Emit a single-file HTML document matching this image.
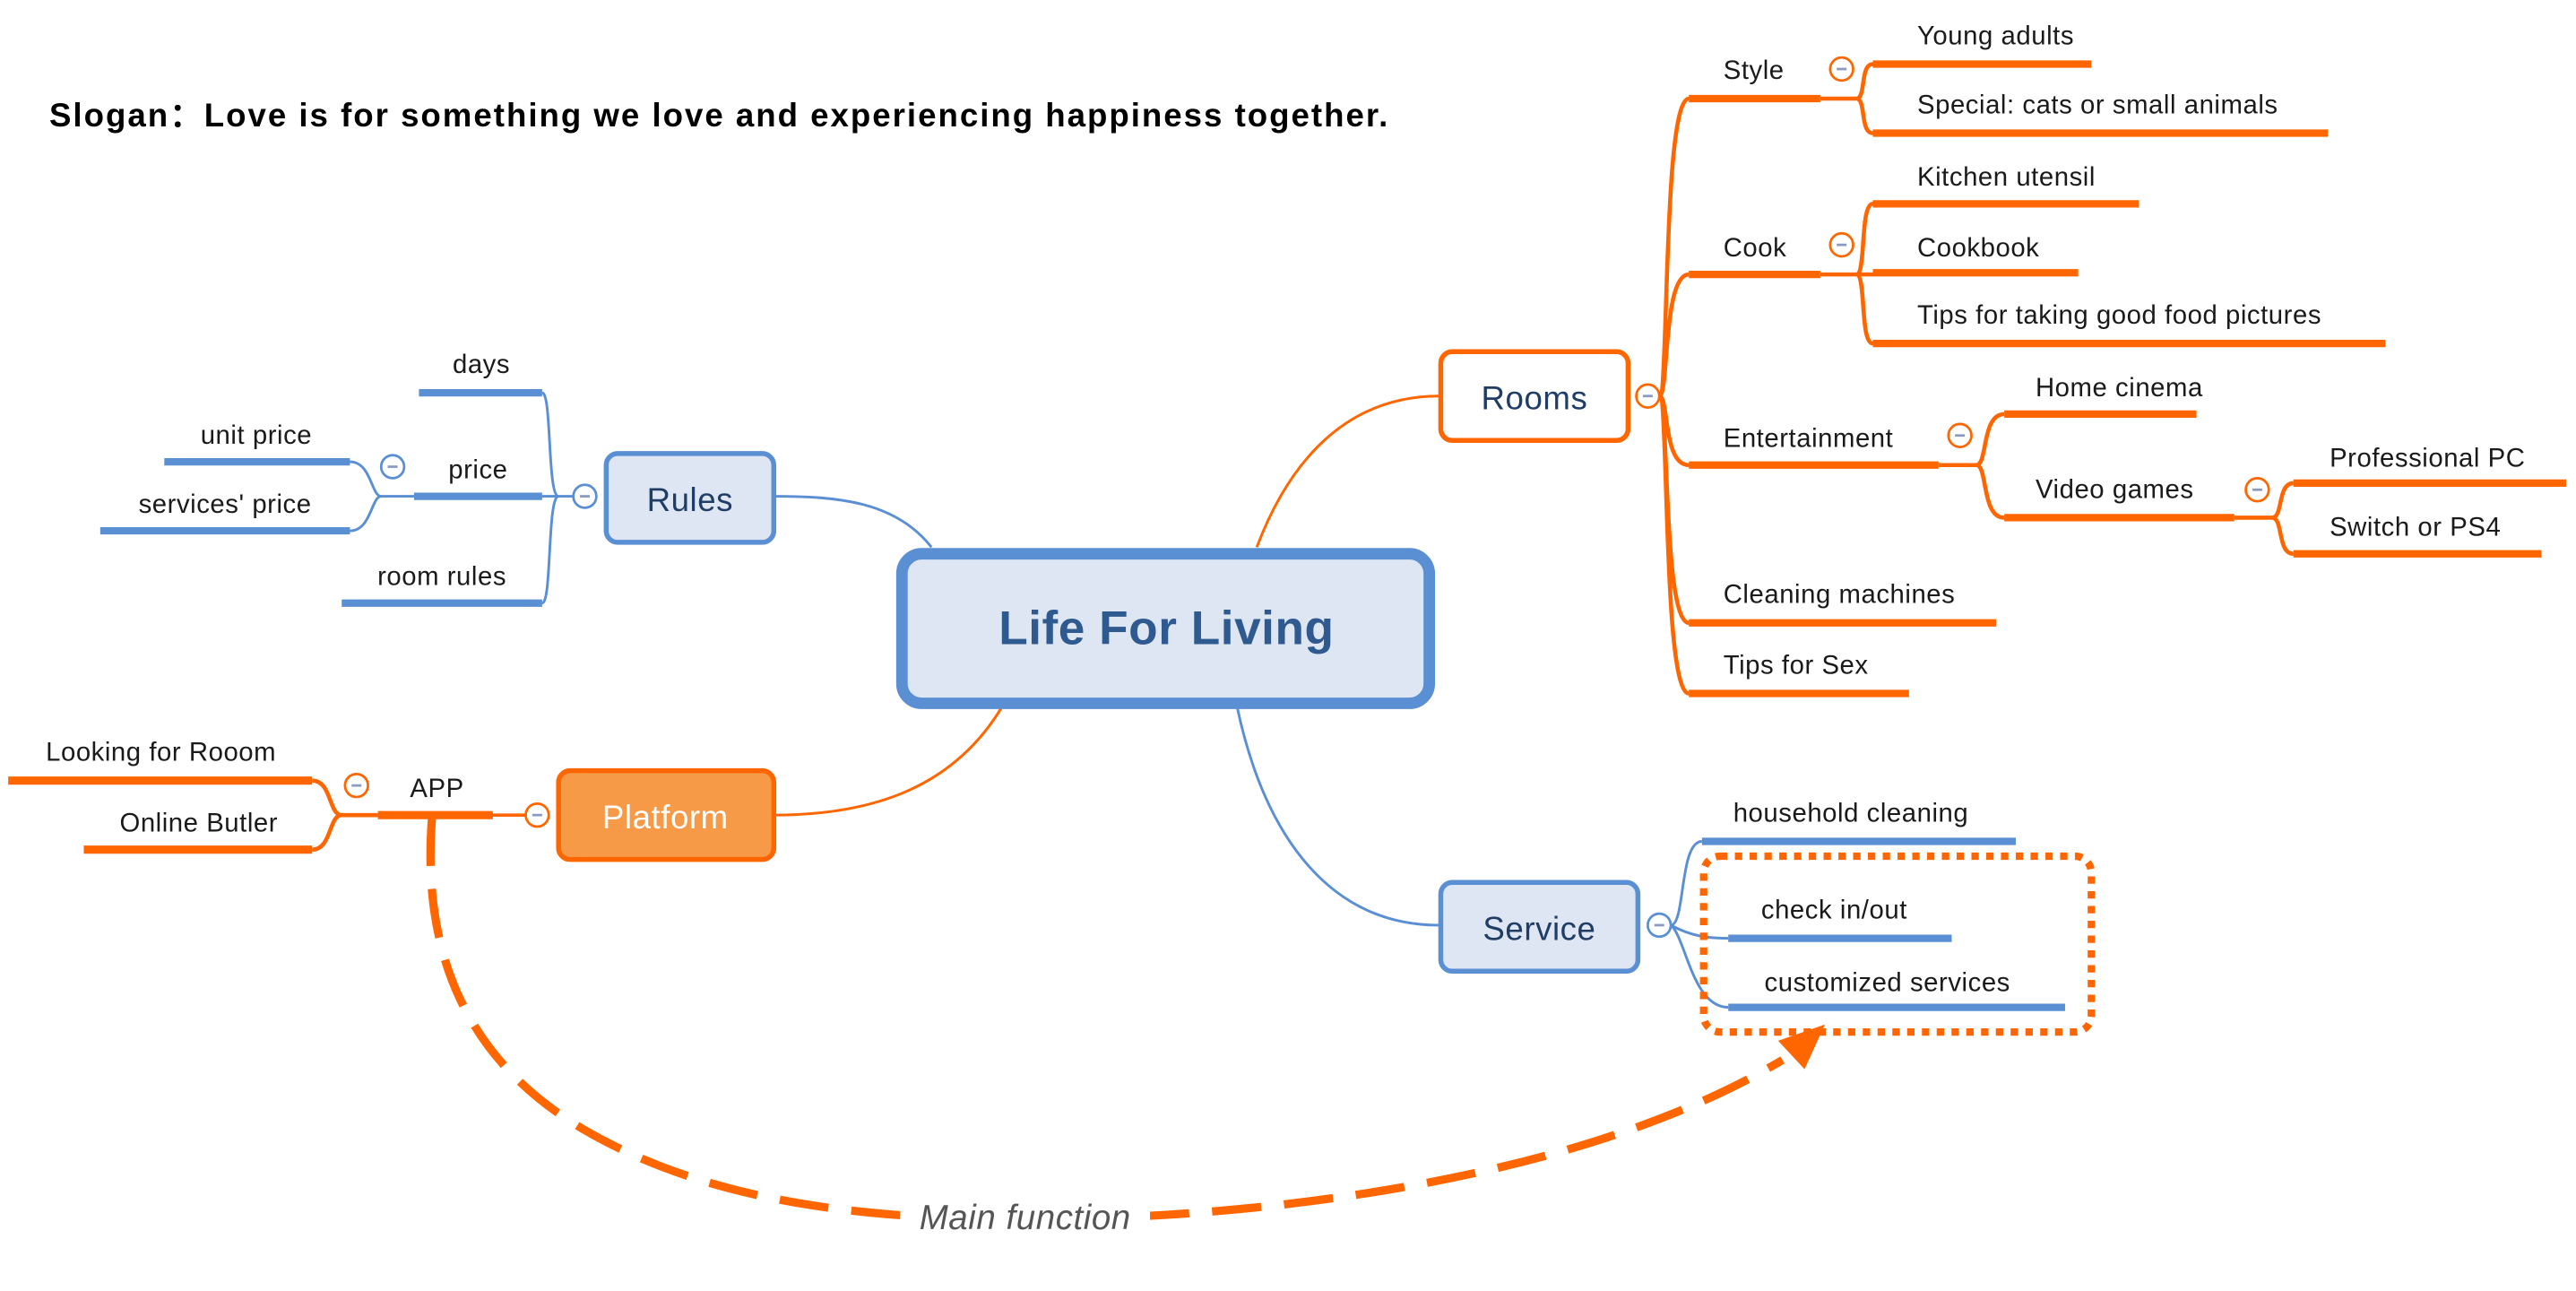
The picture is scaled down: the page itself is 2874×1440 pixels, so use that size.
<!DOCTYPE html>
<html><head><meta charset="utf-8"><style>
html,body{margin:0;padding:0;background:#fff;width:2874px;height:1440px;overflow:hidden}
svg{display:block}
text{font-family:"Liberation Sans",sans-serif;fill:#1a1a1a;font-size:16px;letter-spacing:0.3px}
</style></head><body>
<svg width="2874" height="1440" viewBox="0 0 1568 785.6" xmlns="http://www.w3.org/2000/svg">
<text x="30" y="77" textLength="815" lengthAdjust="spacing" style="font-size:20px;font-weight:bold;fill:#000">Slogan：Love is for something we love and experiencing happiness together.</text>

<g fill="none" stroke-width="1.6">
<path d="M567,333 C545,305 510,302 471,302" stroke="#5b8fd4"/>
<path d="M765,333 C785,280 820,241 876,241" stroke="#ff6600"/>
<path d="M610,430 C580,480 530,496 471,496" stroke="#ff6600"/>
<path d="M753,430 C770,510 810,563 876,563" stroke="#5b8fd4"/>
</g>

<rect x="549" y="337" width="321" height="91" rx="12" fill="#dde6f2" stroke="#5b8fd4" stroke-width="7"/>
<text x="710" y="392" text-anchor="middle" style="font-size:29px;font-weight:bold;fill:#2f5a8f">Life For Living</text>

<rect x="369" y="276" width="102" height="54" rx="7" fill="#dde6f2" stroke="#5b8fd4" stroke-width="3"/>
<text x="420" y="311" text-anchor="middle" style="font-size:20px;fill:#1f3d66">Rules</text>
<g fill="none" stroke="#5b8fd4">
<path d="M349,302 L340,302 C333,302 336,239 330,239 M340,302 C333,302 336,367 330,367 M340,302 L330,302" stroke-width="1.6"/>
<path d="M255,239 H330 M252,302 H330 M208,367 H330" stroke-width="4.5"/>
<path d="M252,302 L232,302 C226,302 226,281 213,281 M232,302 C226,302 226,323 213,323" stroke-width="1.6"/>
<path d="M100,281 H213 M61,323 H213" stroke-width="4.5"/>
</g>
<circle cx="356" cy="302" r="7" fill="#fff" stroke="#5b8fd4" stroke-width="1.5"/><path d="M353,302h6" stroke="#8a9ac0" stroke-width="1.5"/>
<circle cx="239" cy="284" r="7" fill="#fff" stroke="#5b8fd4" stroke-width="1.5"/><path d="M236,284h6" stroke="#8a9ac0" stroke-width="1.5"/>
<text x="293" y="227" text-anchor="middle">days</text>
<text x="156" y="270" text-anchor="middle">unit price</text>
<text x="291" y="291" text-anchor="middle">price</text>
<text x="137" y="312" text-anchor="middle">services' price</text>
<text x="269" y="356" text-anchor="middle">room rules</text>

<rect x="340" y="469" width="131" height="54" rx="7" fill="#f79a48" stroke="#ff6600" stroke-width="3"/>
<text x="405" y="504" text-anchor="middle" style="font-size:20px;fill:#fff">Platform</text>
<g fill="none" stroke="#ff6600">
<path d="M320,496 H230" stroke-width="2"/>
<path d="M230,496 H300" stroke-width="5"/>
<path d="M230,496 H208 C200,496 202,475 190,475 M208,496 C200,496 202,517 190,517" stroke-width="2.5"/>
<path d="M5,475 H190 M51,517 H190" stroke-width="5"/>
</g>
<circle cx="327" cy="496" r="7" fill="#fff" stroke="#ff6600" stroke-width="1.5"/><path d="M324,496h6" stroke="#8a9ac0" stroke-width="1.5"/>
<circle cx="217" cy="478" r="7" fill="#fff" stroke="#ff6600" stroke-width="1.5"/><path d="M214,478h6" stroke="#8a9ac0" stroke-width="1.5"/>
<text x="266" y="485" text-anchor="middle">APP</text>
<text x="98" y="463" text-anchor="middle">Looking for Rooom</text>
<text x="121" y="506" text-anchor="middle">Online Butler</text>

<path d="M263,497 C258,560 270,640 360,690 C440,735 540,742 624,742 C760,742 960,720 1085,645" fill="none" stroke="#ff6600" stroke-width="5" stroke-dasharray="30,14"/>
<path d="M1108,626 L1085,634 L1098,648 Z" fill="#ff6600" stroke="#ff6600" stroke-width="3"/>
<rect x="548" y="726" width="152" height="28" fill="#fff"/>
<text x="624" y="748" text-anchor="middle" style="font-size:21px;font-style:italic;fill:#555">Main function</text>

<rect x="877" y="214" width="114" height="54" rx="7" fill="#fff" stroke="#ff6600" stroke-width="3"/>
<text x="934" y="249" text-anchor="middle" style="font-size:20px;fill:#1f3d66">Rooms</text>
<g fill="none" stroke="#ff6600">
<path d="M1010,241 C1016,241 1012,60 1028,60 M1010,241 C1016,241 1012,167 1028,167 M1010,241 C1016,241 1012,283 1028,283 M1010,241 C1016,241 1012,379 1028,379 M1010,241 C1016,241 1012,422 1028,422" stroke-width="2.5"/>
<path d="M1028,60 H1108 M1028,167 H1108 M1028,283 H1180 M1028,379 H1215 M1028,422 H1162" stroke-width="4.5"/>
<path d="M1108,60 H1130 C1136,60 1132,39 1140,39 M1130,60 C1136,60 1132,81 1140,81" stroke-width="2.5"/>
<path d="M1108,167 H1130 C1136,167 1132,124 1140,124 M1130,167 H1140 M1130,167 C1136,167 1132,209 1140,209" stroke-width="2.5"/>
<path d="M1140,39 H1273 M1140,81 H1417 M1140,124 H1302 M1140,166 H1265 M1140,209 H1452" stroke-width="4.5"/>
<path d="M1180,283 H1203 C1210,283 1206,252 1220,252 M1203,283 C1210,283 1206,315 1220,315" stroke-width="2.5"/>
<path d="M1220,252 H1337 M1220,315 H1360" stroke-width="4.5"/>
<path d="M1360,315 H1383 C1390,315 1386,294 1396,294 M1383,315 C1390,315 1386,337 1396,337" stroke-width="2.5"/>
<path d="M1396,294 H1562 M1396,337 H1547" stroke-width="4.5"/>
</g>
<g fill="#fff" stroke="#ff6600" stroke-width="1.5">
<circle cx="1003" cy="241" r="7"/><circle cx="1121" cy="42" r="7"/><circle cx="1121" cy="149" r="7"/><circle cx="1193" cy="265" r="7"/><circle cx="1374" cy="298" r="7"/>
</g>
<g stroke="#8a9ac0" stroke-width="1.5">
<path d="M1000,241h6 M1118,42h6 M1118,149h6 M1190,265h6 M1371,298h6"/>
</g>
<text x="1049" y="48">Style</text>
<text x="1049" y="156">Cook</text>
<text x="1049" y="272">Entertainment</text>
<text x="1049" y="367">Cleaning machines</text>
<text x="1049" y="410">Tips for Sex</text>
<text x="1167" y="27">Young adults</text>
<text x="1167" y="69">Special: cats or small animals</text>
<text x="1167" y="113">Kitchen utensil</text>
<text x="1167" y="156">Cookbook</text>
<text x="1167" y="197">Tips for taking good food pictures</text>
<text x="1239" y="241">Home cinema</text>
<text x="1239" y="303">Video games</text>
<text x="1418" y="284">Professional PC</text>
<text x="1418" y="326">Switch or PS4</text>

<rect x="877" y="537" width="120" height="54" rx="7" fill="#dde6f2" stroke="#5b8fd4" stroke-width="3"/>
<text x="937" y="572" text-anchor="middle" style="font-size:20px;fill:#1f3d66">Service</text>
<g fill="none" stroke="#5b8fd4">
<path d="M1017,563 C1026,563 1022,512 1036,512 M1017,563 C1030,570 1040,571 1052,571 M1017,563 C1026,570 1030,613 1052,613" stroke-width="1.6"/>
<path d="M1036,512 H1227 M1052,571 H1188 M1052,613 H1257" stroke-width="4.5"/>
</g>
<circle cx="1010" cy="563" r="7" fill="#fff" stroke="#5b8fd4" stroke-width="1.5"/><path d="M1007,563h6" stroke="#8a9ac0" stroke-width="1.5"/>
<text x="1055" y="500">household cleaning</text>
<text x="1072" y="559">check in/out</text>
<text x="1074" y="603">customized services</text>
<rect x="1037" y="521" width="236" height="107" rx="10" fill="none" stroke="#ff6600" stroke-width="4.5" stroke-dasharray="4.5,4.5"/>
</svg>
</body></html>
